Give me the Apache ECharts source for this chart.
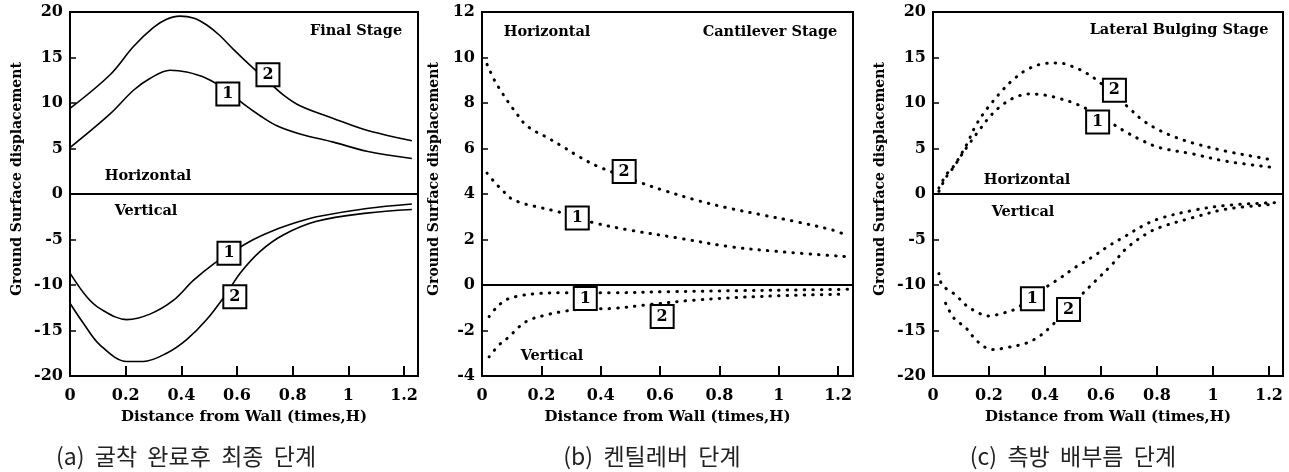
<!DOCTYPE html>
<html><head><meta charset="utf-8">
<script src="https://cdn.jsdelivr.net/npm/echarts@6/dist/echarts.min.js"></script>
<style>html,body{margin:0;padding:0;background:#fff}#c{width:1289px;height:472px}</style>
</head><body><div id="c"></div>
<script>
// ---- data (x = distance from wall / H, y = displacement) ----
const finalH1 = [[0,5.1],[0.144,8.8],[0.228,11.4],[0.287,12.7],[0.359,13.6],[0.419,13.4],[0.491,12.7],[0.563,11.4],[0.623,9.9],[0.683,8.6],[0.743,7.5],[0.826,6.6],[0.946,5.7],[1.066,4.7],[1.228,3.9]];
const finalH2 = [[0,9.4],[0.144,13.1],[0.228,16.2],[0.3,18.3],[0.347,19.2],[0.395,19.55],[0.443,19.35],[0.49,18.6],[0.535,17.5],[0.587,15.9],[0.659,13.8],[0.707,12.5],[0.766,10.9],[0.826,9.7],[0.946,8.3],[1.066,7.0],[1.228,5.85]];
const finalV1 = [[0,-8.7],[0.06,-11.3],[0.108,-12.6],[0.204,-13.8],[0.287,-13.2],[0.371,-11.7],[0.443,-9.5],[0.515,-7.7],[0.587,-6.3],[0.659,-5.0],[0.731,-4.0],[0.826,-3.0],[0.886,-2.5],[1.066,-1.6],[1.228,-1.1]];
const finalV2 = [[0,-12.0],[0.048,-14.2],[0.108,-16.6],[0.204,-18.4],[0.263,-18.4],[0.347,-17.5],[0.419,-16.0],[0.491,-13.8],[0.563,-10.9],[0.611,-8.7],[0.683,-6.3],[0.766,-4.5],[0.886,-3.0],[1.066,-2.1],[1.228,-1.7]];

const cantH1 = [[0.017,4.92],[0.045,4.48],[0.073,4.11],[0.096,3.82],[0.135,3.6],[0.18,3.45],[0.247,3.25],[0.3,3.05],[0.372,2.75],[0.495,2.42],[0.664,2.06],[0.832,1.69],[1.0,1.47],[1.226,1.25]];
const cantH2 = [[0.017,9.7],[0.042,9.0],[0.07,8.4],[0.096,7.9],[0.121,7.46],[0.146,7.05],[0.18,6.75],[0.213,6.53],[0.27,6.1],[0.326,5.65],[0.393,5.2],[0.539,4.48],[0.607,4.18],[0.719,3.74],[0.831,3.38],[0.944,3.08],[1.056,2.79],[1.18,2.42],[1.226,2.2]];
const cantV1 = [[0.024,-1.39],[0.046,-1.03],[0.08,-0.66],[0.125,-0.48],[0.193,-0.37],[0.271,-0.34],[0.44,-0.34],[0.64,-0.29],[0.87,-0.25],[1.04,-0.22],[1.24,-0.19]];
const cantV2 = [[0.024,-3.16],[0.057,-2.64],[0.091,-2.28],[0.125,-1.84],[0.159,-1.54],[0.215,-1.32],[0.271,-1.17],[0.327,-1.07],[0.44,-1.03],[0.55,-0.88],[0.72,-0.66],[0.944,-0.5],[1.226,-0.4]];

const latH1 = [[0.021,0.3],[0.048,1.9],[0.075,3.0],[0.1,4.2],[0.129,5.5],[0.165,7.0],[0.2,8.4],[0.236,9.5],[0.284,10.5],[0.344,11.0],[0.403,10.85],[0.451,10.5],[0.511,9.9],[0.57,9.0],[0.642,7.7],[0.69,6.8],[0.749,5.85],[0.809,5.1],[0.928,4.4],[1.047,3.6],[1.22,2.9]];
const latH2 = [[0.021,0.67],[0.048,2.15],[0.075,3.1],[0.099,4.3],[0.123,5.6],[0.147,7.2],[0.177,8.7],[0.212,10.1],[0.248,11.4],[0.284,12.5],[0.332,13.6],[0.391,14.3],[0.451,14.4],[0.499,14.0],[0.547,13.3],[0.594,12.3],[0.702,9.4],[0.749,8.1],[0.809,7.0],[0.869,6.2],[0.928,5.6],[1.047,4.7],[1.167,4.0],[1.22,3.7]];
const latV1 = [[0.021,-8.75],[0.033,-10.0],[0.081,-11.1],[0.117,-12.2],[0.165,-13.1],[0.2,-13.4],[0.248,-13.1],[0.296,-12.6],[0.415,-10.0],[0.451,-9.3],[0.511,-8.0],[0.57,-6.9],[0.63,-5.66],[0.69,-4.58],[0.749,-3.5],[0.809,-2.7],[0.928,-1.8],[1.047,-1.25],[1.22,-0.95]];
const latV2 = [[0.045,-12.0],[0.075,-13.65],[0.117,-14.7],[0.159,-16.2],[0.212,-17.1],[0.26,-16.9],[0.332,-16.4],[0.379,-15.65],[0.421,-14.56],[0.523,-11.3],[0.582,-9.5],[0.642,-7.66],[0.69,-6.0],[0.761,-4.4],[0.81,-3.67],[0.928,-2.6],[1.047,-1.67],[1.22,-1.12]];

// curve-number boxes: [x, y, label]
const finalBoxes = [[0.567,11.0,'1'],[0.711,13.1,'2'],[0.571,-6.5,'1'],[0.592,-11.3,'2']];
const cantBoxes  = [[0.321,2.94,'1'],[0.479,4.99,'2'],[0.348,-0.59,'1'],[0.607,-1.39,'2']];
const latBoxes   = [[0.588,7.9,'1'],[0.648,11.4,'2'],[0.355,-11.5,'1'],[0.484,-12.7,'2']];

const yRanges = [[-20,20,5],[-4,12,2],[-20,20,5]];
const xTitle = 'Distance from Wall (times,H)';
const yTitle = 'Ground Surface displacement';
const stageTitles = ['Final Stage','Cantilever Stage','Lateral Bulging Stage'];
const captions = ['(a)  굴착  완료후  최종  단계','(b)  켄틸레버  단계','(c)  측방  배부름  단계'];

// ---- chart ----
const SERIF = '"DejaVu Serif", serif';
const chart = echarts.init(document.getElementById('c'), null, {renderer:'canvas'});
const gridPos = [
  {left:70, top:12, width:348, height:364},
  {left:482, top:12, width:371, height:364},
  {left:933, top:12, width:350, height:364}
];
const nameGaps = [46, 41, 46];

function xAx(i){
  return {type:'value', gridIndex:i, min:0, max:1.25, interval:0.2,
    axisLine:{show:true, onZero:false, lineStyle:{color:'#000', width:2}},
    axisTick:{show:true, inside:true, length:10, lineStyle:{color:'#000', width:2}},
    axisLabel:{margin:12, color:'#000', fontFamily:SERIF, fontWeight:'bold', fontSize:16,
      formatter: v => (Math.abs(v*5 - Math.round(v*5)) < 1e-6 ? String(+v.toFixed(1)) : '')},
    splitLine:{show:false},
    name:xTitle, nameLocation:'middle', nameGap:34,
    nameTextStyle:{color:'#000', fontFamily:SERIF, fontWeight:'bold', fontSize:15}};
}
function yAx(i){
  const r = yRanges[i];
  return {type:'value', gridIndex:i, min:r[0], max:r[1], interval:r[2],
    axisLine:{show:true, onZero:false, lineStyle:{color:'#000', width:2}},
    axisTick:{show:true, inside:true, length:6, lineStyle:{color:'#000', width:1.5}},
    axisLabel:{margin:7, color:'#000', fontFamily:SERIF, fontWeight:'bold', fontSize:16},
    splitLine:{show:false},
    name:yTitle, nameLocation:'middle', nameGap:nameGaps[i],
    nameTextStyle:{color:'#000', fontFamily:SERIF, fontWeight:'bold', fontSize:14, padding:[0,0,0,30]}};
}
function boxMark(b){
  return {symbol:'rect', symbolSize:[23,23], silent:true, animation:false,
    itemStyle:{color:'#fff', borderColor:'#000', borderWidth:2},
    label:{show:true, position:'inside', formatter:b[2], color:'#000', fontFamily:SERIF, fontWeight:'bold', fontSize:16},
    data:[{coord:[b[0], b[1]]}]};
}
function line(data, i, dotted, box, zero){
  const s = {type:'line', xAxisIndex:i, yAxisIndex:i, data, symbol:'none', showSymbol:false,
    smooth:0.35, silent:true, animation:false, z:2,
    lineStyle: dotted ? {color:'#000', width:3, type:[0.5,8], cap:'round'} : {color:'#000', width:1.6},
    markPoint: boxMark(box)};
  if (zero) s.markLine = {silent:true, symbol:'none', animation:false,
    lineStyle:{color:'#000', width:2, type:'solid'}, label:{show:false}, data:[{yAxis:0}]};
  return s;
}

function txt(t, x, y, size){
  return {type:'text', x, y, silent:true,
    style:{text:t, font:'bold ' + size + 'px "DejaVu Serif"', fill:'#000', align:'center', verticalAlign:'middle'}};
}
function cap(t, x){
  return {type:'text', x, y:456, silent:true,
    style:{text:t, font:'23px "Noto Sans CJK KR"', fill:'#222', align:'center', verticalAlign:'middle'}};
}

const option = {
  backgroundColor:'#fff',
  animation:false,
  grid: gridPos.map(g => Object.assign({show:true, borderColor:'#000', borderWidth:2, backgroundColor:'transparent'}, g)),
  xAxis:[xAx(0), xAx(1), xAx(2)],
  yAxis:[yAx(0), yAx(1), yAx(2)],
  series:[
    line(finalH1,0,false,finalBoxes[0],true),
    line(finalH2,0,false,finalBoxes[1]),
    line(finalV1,0,false,finalBoxes[2]),
    line(finalV2,0,false,finalBoxes[3]),
    line(cantH1,1,true,cantBoxes[0],true),
    line(cantH2,1,true,cantBoxes[1]),
    line(cantV1,1,true,cantBoxes[2]),
    line(cantV2,1,true,cantBoxes[3]),
    line(latH1,2,true,latBoxes[0],true),
    line(latH2,2,true,latBoxes[1]),
    line(latV1,2,true,latBoxes[2]),
    line(latV2,2,true,latBoxes[3])
  ],
  graphic:[
    txt(stageTitles[0], 356, 31, 14.5),
    txt('Horizontal', 148, 176, 14.5),
    txt('Vertical', 146, 211, 14.5),
    txt('Horizontal', 547, 32, 14.5),
    txt(stageTitles[1], 770, 32, 14.5),
    txt('Vertical', 552, 356, 14.5),
    txt(stageTitles[2], 1179, 30, 14.5),
    txt('Horizontal', 1027, 180, 14.5),
    txt('Vertical', 1023, 212, 14.5),
    cap(captions[0], 186),
    cap(captions[1], 652),
    cap(captions[2], 1073)
  ]
};
chart.setOption(option);
</script>
</body></html>
